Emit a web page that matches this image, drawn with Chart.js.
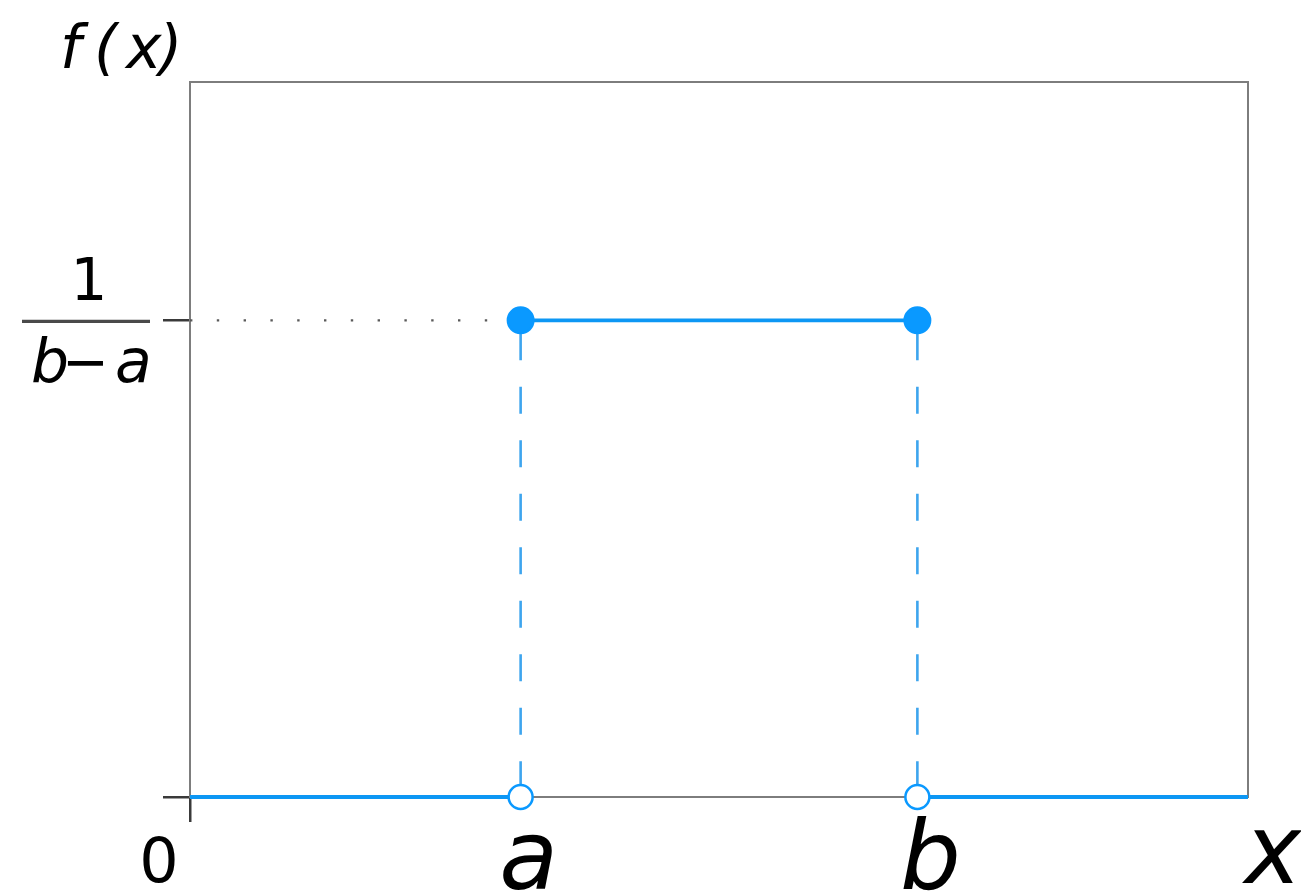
<!DOCTYPE html>
<html><head><meta charset="utf-8">
<script src="https://cdn.jsdelivr.net/npm/chart.js@4/dist/chart.umd.min.js"></script>
<style>html,body{margin:0;padding:0;background:#fff;overflow:hidden}</style>
</head><body>
<canvas id="c" width="1301" height="896"></canvas>
<script>
// ---- data ----
const xRange = [0, 8];
const yRange = [0, 0.5];
const lowerBound = 2.5;   // a
const upperBound = 5.5;   // b
const density = 1 / (upperBound - lowerBound);
const xTickValues = [0, lowerBound, upperBound];
const xTickLabels = ['0', 'a', 'b'];
const yTickValues = [0, density];
const yTickNumerator = '1';
const yTickDenominator = ['b', '−', 'a'];
const xAxisTitle = 'x';
const yAxisTitle = ['f', '(', 'x', ')'];

// ---- styles ----
const BLUE = '#0d97f4';
const BLUE_MARK = '#0a99ff';
const BLUE_DASH = '#3ea5ee';
const FRAME = '#7d7d7d';
const TICK = '#3a3a3a';
const FONT = '"DejaVu Sans", "Noto Sans", sans-serif';

const lineDs = (data, order) => ({
  data, showLine: true, borderColor: BLUE, borderWidth: 3.8,
  pointRadius: 0, clip: false, order, borderCapStyle: 'butt'
});

const datasets = [
  { // dotted guide to the density level
    data: [{x: xRange[0], y: density}, {x: lowerBound, y: density}],
    showLine: true, borderColor: '#5a5a5a', borderWidth: 2.4,
    borderDash: [2.4, 24.4], pointRadius: 0, clip: false, order: 6
  },
  { // dashed vertical at a
    data: [{x: lowerBound, y: density}, {x: lowerBound, y: 0}],
    showLine: true, borderColor: BLUE_DASH, borderWidth: 2.6,
    borderDash: [27, 26.5], borderDashOffset: 40.5, pointRadius: 0, clip: false, order: 5
  },
  { // dashed vertical at b
    data: [{x: upperBound, y: density}, {x: upperBound, y: 0}],
    showLine: true, borderColor: BLUE_DASH, borderWidth: 2.6,
    borderDash: [27, 26.5], borderDashOffset: 40.5, pointRadius: 0, clip: false, order: 5
  },
  lineDs([{x: xRange[0], y: 0}, {x: lowerBound, y: 0}], 3),
  lineDs([{x: upperBound, y: 0}, {x: xRange[1], y: 0}], 3),
  { // top segment with filled end points
    data: [{x: lowerBound, y: density}, {x: upperBound, y: density}],
    showLine: true, borderColor: BLUE, borderWidth: 3.8,
    pointRadius: 13, pointBackgroundColor: BLUE_MARK, pointBorderColor: BLUE_MARK,
    pointBorderWidth: 2, clip: false, order: 2
  },
  { // open circles at the base
    data: [{x: lowerBound, y: 0}, {x: upperBound, y: 0}],
    showLine: false, pointRadius: 12, pointBackgroundColor: '#ffffff',
    pointBorderColor: BLUE_MARK, pointBorderWidth: 2.5, clip: false, order: 1
  }
];

const framePlugin = {
  id: 'frame',
  beforeDatasetsDraw(chart) {
    const {ctx, chartArea: a} = chart;
    ctx.save();
    ctx.strokeStyle = FRAME;
    ctx.lineWidth = 2;
    ctx.strokeRect(a.left, a.top, a.right - a.left, a.bottom - a.top);
    ctx.restore();
  }
};

const labelPlugin = {
  id: 'labels',
  afterDraw(chart) {
    const {ctx, chartArea: area} = chart;
    const xs = chart.scales.x, ys = chart.scales.y;
    ctx.save();
    ctx.fillStyle = '#000';
    ctx.textBaseline = 'alphabetic';
    // x tick labels
    const xOff = [-31, 8, 13];
    xTickValues.forEach((v, i) => {
      const px = xs.getPixelForValue(v);
      ctx.textAlign = 'center';
      if (i === 0) {
        ctx.font = '62px ' + FONT;
        ctx.fillText(xTickLabels[i], px + xOff[i], area.bottom + 85);
      } else {
        ctx.font = 'italic 96px ' + FONT;
        ctx.fillText(xTickLabels[i], px + xOff[i], area.bottom + 92);
      }
    });
    // x axis title
    ctx.font = 'italic 96px ' + FONT;
    ctx.textAlign = 'center';
    ctx.fillText(xAxisTitle, area.right + 25, area.bottom + 86);
    // y tick label (fraction) at density
    const py = ys.getPixelForValue(yTickValues[1]);
    const fx = area.left - 101;
    ctx.font = '58px ' + FONT;
    ctx.textAlign = 'center';
    ctx.fillText(yTickNumerator, fx, py - 20);
    ctx.strokeStyle = '#4a4a4a';
    ctx.lineWidth = 3.2;
    ctx.beginPath();
    ctx.moveTo(area.left - 168, py + 1);
    ctx.lineTo(area.left - 40, py + 1);
    ctx.stroke();
    ctx.textAlign = 'left';
    ctx.font = 'italic 60px ' + FONT;
    ctx.fillText(yTickDenominator[0], area.left - 159, py + 62);
    ctx.font = '56px ' + FONT;
    ctx.fillText(yTickDenominator[1], area.left - 128, py + 61);
    ctx.font = 'italic 60px ' + FONT;
    ctx.fillText(yTickDenominator[2], area.left - 75, py + 62);
    // y axis title f(x)
    ctx.font = 'italic 60px ' + FONT;
    const tx = [area.left - 130, area.left - 96, area.left - 64, area.left - 31];
    yAxisTitle.forEach((s, i) => ctx.fillText(s, tx[i], area.top - 14));
    ctx.restore();
  }
};

new Chart(document.getElementById('c'), {
  type: 'scatter',
  data: { datasets },
  options: {
    responsive: false,
    animation: false,
    devicePixelRatio: 1,
    layout: { padding: { left: 190, top: 82, right: 53, bottom: 99 } },
    plugins: { legend: { display: false }, tooltip: { enabled: false } },
    scales: {
      x: {
        type: 'linear', min: xRange[0], max: xRange[1],
        afterBuildTicks: s => { s.ticks = [{ value: xTickValues[0] }]; },
        afterFit: s => { s.height = 0; },
        ticks: { display: false },
        grid: { drawOnChartArea: false, drawTicks: true, tickLength: 25, color: TICK, lineWidth: 2.5 },
        border: { display: false }
      },
      y: {
        type: 'linear', min: yRange[0], max: yRange[1],
        afterBuildTicks: s => { s.ticks = yTickValues.map(v => ({ value: v })); },
        afterFit: s => { s.width = 0; },
        ticks: { display: false },
        grid: { drawOnChartArea: false, drawTicks: true, tickLength: 27, color: TICK, lineWidth: 2.5 },
        border: { display: false }
      }
    }
  },
  plugins: [framePlugin, labelPlugin]
});
</script>
</body></html>
